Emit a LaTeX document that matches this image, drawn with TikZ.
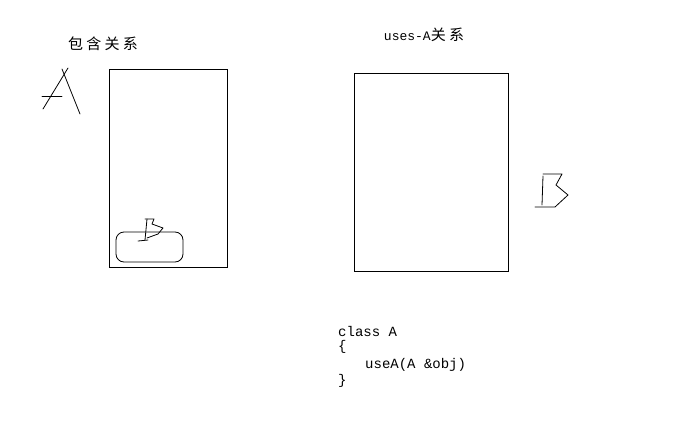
\documentclass[tikz,border=0pt]{standalone}
\usepackage{fontspec}
\setmainfont{Liberation Sans}
\newfontfamily\cjk[LetterSpace=22]{Noto Sans CJK SC}
\newfontfamily\code{Liberation Mono}
\usetikzlibrary{positioning}

\begin{document}
\begin{tikzpicture}[x=1pt, y=-1pt,
  frame/.style={draw, line width=0.8pt, minimum width=#1, anchor=north west, inner sep=0pt},
  hand/.style={line width=0.8pt, line cap=round, line join=round},
  title/.style={font=\fontsize{15}{17}\selectfont, inner sep=0pt},
  codeline/.style={font=\code\fontsize{14}{16}\selectfont, anchor=west, inner sep=0pt}]
  \useasboundingbox (0,0) rectangle (692,441);

  % left part: containment
  \node[title] (tcontain) at (103,44) {\cjk 包含关系};
  \node[frame=118pt, minimum height=198pt] (contain) at (109,69) {};
  \node[draw, line width=0.8pt, rounded corners=8pt, minimum width=67pt, minimum height=30pt, inner sep=0pt] (inner) at (149.5,247) {};
  % hand-written A
  \draw[hand] (62,69) -- (80,114);
  \draw[hand] (68,68) -- (43,109);
  \draw[hand] (42,96) -- (62,96);
  % hand-written B inside
  \draw[hand] (147,219) -- (145,240);
  \draw[hand] (145,219) -- (154,219) -- (152,224) -- (163,228) -- (158,234) -- (147,238);
  \draw[hand] (138,241) -- (148,240);

  % right part: uses-A
  \node[title] (tuses) at (424,35) {{\code\fontsize{13}{15}\selectfont uses-A}\cjk 关系};
  \node[frame=154pt, minimum height=198pt] (uses) at (354,73) {};
  % hand-written B
  \draw[hand] (543,174) -- (562,174) -- (556,185) -- (568,195) -- (555,207) -- (535,207);
  \draw[hand] (543,176) -- (542,205);

  % code
  \node[codeline] (c1) at (338,331) {class A};
  \node[codeline] (c2) at (338,347) {\{};
  \node[codeline] (c3) at (365,365) {useA(A \&obj)};
  \node[codeline] (c4) at (338,381) {\}};
\end{tikzpicture}
\end{document}
